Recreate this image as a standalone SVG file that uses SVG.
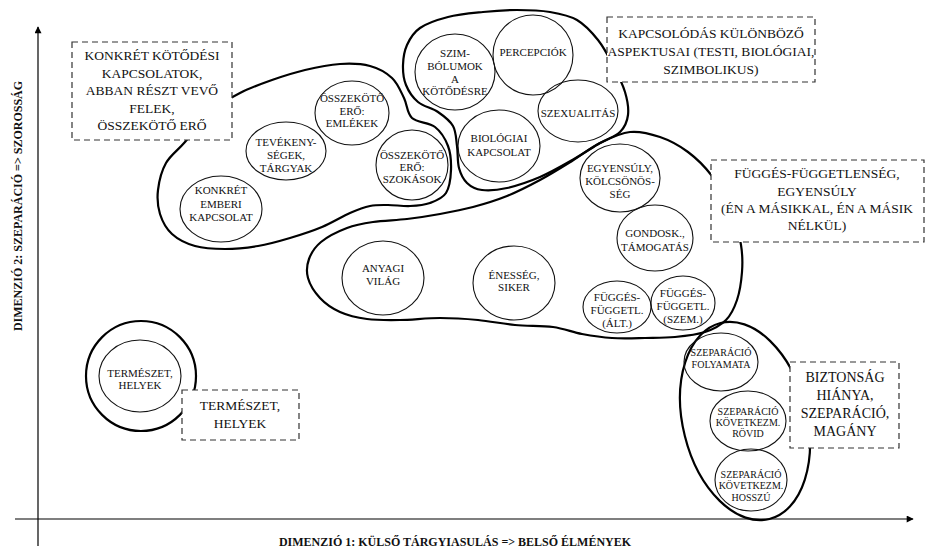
<svg xmlns="http://www.w3.org/2000/svg" width="928" height="551" viewBox="0 0 928 551">
<defs>
<marker id="arrow" viewBox="0 0 10 10" refX="9" refY="5" markerWidth="9" markerHeight="7" markerUnits="userSpaceOnUse" orient="auto"><path d="M0,0 L10,5 L0,10 z" fill="#000"/></marker>
</defs>
<style>
.t{font-family:"Liberation Serif","Times New Roman",serif;font-size:11px;fill:#111;text-anchor:middle}
.s{font-size:10px}
.b{font-family:"Liberation Serif","Times New Roman",serif;font-size:13.5px;fill:#111;text-anchor:middle}
.bb{font-size:14px}
.ax{font-family:"Liberation Serif","Times New Roman",serif;font-size:12px;font-weight:bold;fill:#111;text-anchor:middle}
.n{fill:none;stroke:#111;stroke-width:1.1}
.blob{fill:none;stroke:#000;stroke-width:2.2;stroke-linejoin:round}
.box{fill:#fff;stroke:#333;stroke-width:1.2;stroke-dasharray:6 4}
.axis{stroke:#000;stroke-width:1.2;fill:none}
</style>
<rect width="928" height="551" fill="#fff"/>

<g id="clusters">
<path id="blob-konkret" class="blob" d="M185,142 C192.3,133.5 200.8,120.2 210,112 C219.2,103.8 229.7,98.3 240,93 C250.3,87.7 261.2,83.8 272,80 C282.8,76.2 293.7,72.7 305,70 C316.3,67.3 329.2,64.7 340,64 C350.8,63.3 361.3,63.7 370,66 C378.7,68.3 386.3,72.7 392,78 C397.7,83.3 400.7,91.3 404,98 C407.3,104.7 406.8,113.2 412,118 C417.2,122.8 429,122.3 435,127 C441,131.7 445.3,138.8 448,146 C450.7,153.2 451.3,162.2 451,170 C450.7,177.8 449.5,187.5 446,193 C442.5,198.5 436,200.8 430,203 C424,205.2 417,205.7 410,206 C403,206.3 394.7,205 388,205 C381.3,205 376.3,204.7 370,206 C363.7,207.3 358,209.5 350,213 C342,216.5 332,222.8 322,227 C312,231.2 300.7,234.8 290,238 C279.3,241.2 268.8,244.2 258,246 C247.2,247.8 235.5,249 225,249 C214.5,249 203.8,248.5 195,246 C186.2,243.5 177.8,239.3 172,234 C166.2,228.7 162.3,221.3 160,214 C157.7,206.7 157,198.5 158,190 C159,181.5 161.5,171 166,163 C170.5,155 177.7,150.5 185,142 Z"/>
<path id="blob-kapcsolodas" class="blob" d="M407,45 C409.8,38.8 413.2,32.7 420,28 C426.8,23.3 437.5,19.7 448,17 C458.5,14.3 471.5,13.2 483,12 C494.5,10.8 505.8,10 517,10 C528.2,10 540,10.3 550,12 C560,13.7 569,15.3 577,20 C585,24.7 592,32.5 598,40 C604,47.5 608.5,56.3 613,65 C617.5,73.7 622.5,83.7 625,92 C627.5,100.3 628.8,108.3 628,115 C627.2,121.7 624.7,127.3 620,132 C615.3,136.7 607.7,138.5 600,143 C592.3,147.5 584,153.3 574,159 C564,164.7 551.2,172.2 540,177 C528.8,181.8 516.7,185.8 507,188 C497.3,190.2 488.7,190.8 482,190 C475.3,189.2 470.8,186.7 467,183 C463.2,179.3 460.7,174.2 459,168 C457.3,161.8 458,153 457,146 C456,139 456.2,131.7 453,126 C449.8,120.3 443.8,116 438,112 C432.2,108 423.3,106.5 418,102 C412.7,97.5 408.5,91.2 406,85 C403.5,78.8 402.8,71.7 403,65 C403.2,58.3 404.2,51.2 407,45 Z"/>
<path id="blob-fugges" class="blob" d="M347,228 C355.7,224.7 363,223.5 373,222 C383,220.5 395.8,220.3 407,219 C418.2,217.7 429,216 440,214 C451,212 461.8,210 473,207 C484.2,204 495.8,200.5 507,196 C518.2,191.5 529.2,185.8 540,180 C550.8,174.2 562,167.2 572,161 C582,154.8 590.3,147.8 600,143 C609.7,138.2 620,133 630,132 C640,131 650.3,133.7 660,137 C669.7,140.3 679.3,145.5 688,152 C696.7,158.5 704.7,166.3 712,176 C719.3,185.7 727.2,198.5 732,210 C736.8,221.5 739.3,234.7 741,245 C742.7,255.3 742.7,262.8 742,272 C741.3,281.2 739.7,292 737,300 C734.3,308 731.3,314.7 726,320 C720.7,325.3 713.5,329.2 705,332 C696.5,334.8 685,336 675,337 C665,338 655.5,337.8 645,338 C634.5,338.2 622.5,338.7 612,338 C601.5,337.3 591.8,335.8 582,334 C572.2,332.2 564.2,328.5 553,327 C541.8,325.5 527.5,326.2 515,325 C502.5,323.8 490.5,321.2 478,320 C465.5,318.8 453,318 440,318 C427,318 412.2,319.8 400,320 C387.8,320.2 377,320.3 367,319 C357,317.7 347.8,315.5 340,312 C332.2,308.5 325.3,303.7 320,298 C314.7,292.3 309.8,284.5 308,278 C306.2,271.5 306.8,265 309,259 C311.2,253 314.7,247.2 321,242 C327.3,236.8 338.3,231.3 347,228 Z"/>
<ellipse id="blob-szeparacio" class="blob" cx="745" cy="421" rx="62" ry="101" transform="rotate(-14 745 421)"/>
<circle id="blob-termeszet" class="blob" cx="141" cy="376" r="55"/>
</g>

<g id="node-konkret-emberi"><ellipse class="n" cx="221" cy="209" rx="41" ry="33"/><text class="t" x="221" y="194">KONKRÉT</text><text class="t" x="221" y="208">EMBERI</text><text class="t" x="221" y="221">KAPCSOLAT</text></g>
<g id="node-tevekenysegek"><ellipse class="n" cx="286" cy="151" rx="40" ry="29"/><text class="t" x="286" y="146">TEVÉKENY-</text><text class="t" x="286" y="159">SÉGEK,</text><text class="t" x="286" y="172">TÁRGYAK</text></g>
<g id="node-emlekek"><ellipse class="n" cx="352" cy="113" rx="37" ry="32"/><text class="t" x="352" y="102">ÖSSZEKÖTŐ</text><text class="t" x="352" y="115">ERŐ:</text><text class="t" x="352" y="127">EMLÉKEK</text></g>
<g id="node-szokasok"><ellipse class="n" cx="412" cy="165" rx="36" ry="35"/><text class="t" x="412" y="159">ÖSSZEKÖTŐ</text><text class="t" x="412" y="171">ERŐ:</text><text class="t" x="412" y="183">SZOKÁSOK</text></g>
<g id="node-szimbolumok"><ellipse class="n" cx="455" cy="72" rx="40" ry="38"/><text class="t" x="455" y="57">SZIM-</text><text class="t" x="455" y="70">BÓLUMOK</text><text class="t" x="455" y="83">A</text><text class="t" x="455" y="95">KÖTŐDÉSRE</text></g>
<g id="node-percepciok"><ellipse class="n" cx="533" cy="55" rx="40" ry="40"/><text class="t" x="533" y="56">PERCEPCIÓK</text></g>
<g id="node-szexualitas"><ellipse class="n" cx="578" cy="111" rx="40" ry="31"/><text class="t" x="578" y="117">SZEXUALITÁS</text></g>
<g id="node-biologiai"><ellipse class="n" cx="499" cy="146" rx="41" ry="36"/><text class="t" x="499" y="142">BIOLÓGIAI</text><text class="t" x="499" y="156">KAPCSOLAT</text></g>
<g id="node-egyensuly"><ellipse class="n" cx="620" cy="178" rx="40" ry="34"/><text class="t" x="620" y="172">EGYENSÚLY,</text><text class="t" x="620" y="185">KÖLCSÖNÖS-</text><text class="t" x="620" y="198">SÉG</text></g>
<g id="node-gondosk"><ellipse class="n" cx="655" cy="238" rx="38" ry="33"/><text class="t" x="655" y="237">GONDOSK.,</text><text class="t" x="655" y="251">TÁMOGATÁS</text></g>
<g id="node-fugges-alt"><ellipse class="n" cx="617" cy="307" rx="34" ry="26"/><text class="t" x="617" y="301">FÜGGÉS-</text><text class="t" x="617" y="314">FÜGGETL.</text><text class="t" x="617" y="327">(ÁLT.)</text></g>
<g id="node-fugges-szem"><ellipse class="n" cx="683" cy="303" rx="32" ry="27"/><text class="t" x="683" y="297">FÜGGÉS-</text><text class="t" x="683" y="310">FÜGGETL.</text><text class="t" x="683" y="323">(SZEM.)</text></g>
<g id="node-anyagi"><ellipse class="n" cx="383" cy="278" rx="41" ry="37"/><text class="t" x="383" y="272">ANYAGI</text><text class="t" x="383" y="285">VILÁG</text></g>
<g id="node-enesseg"><ellipse class="n" cx="514" cy="283" rx="41" ry="37"/><text class="t" x="514" y="279">ÉNESSÉG,</text><text class="t" x="514" y="291">SIKER</text></g>
<g id="node-szep-folyamata"><ellipse class="n" cx="721" cy="362" rx="37" ry="29"/><text class="t s" x="721" y="356">SZEPARÁCIÓ</text><text class="t s" x="721" y="368">FOLYAMATA</text></g>
<g id="node-szep-rovid"><ellipse class="n" cx="748" cy="421" rx="38" ry="30"/><text class="t s" x="748" y="415">SZEPARÁCIÓ</text><text class="t s" x="748" y="426">KÖVETKEZM.</text><text class="t s" x="748" y="437">RÖVID</text></g>
<g id="node-szep-hosszu"><ellipse class="n" cx="751" cy="480" rx="36" ry="31"/><text class="t s" x="751" y="478">SZEPARÁCIÓ</text><text class="t s" x="751" y="489">KÖVETKEZM.</text><text class="t s" x="751" y="501">HOSSZÚ</text></g>
<g id="node-termeszet"><ellipse class="n" cx="140" cy="376" rx="41" ry="36"/><text class="t" x="140" y="377">TERMÉSZET,</text><text class="t" x="140" y="389">HELYEK</text></g>

<g id="label-konkret"><rect class="box" x="72" y="42" width="160" height="98"/><text class="b" x="152" y="60">KONKRÉT KÖTŐDÉSI</text><text class="b" x="152" y="77.5">KAPCSOLATOK,</text><text class="b" x="152" y="95">ABBAN RÉSZT VEVŐ</text><text class="b" x="152" y="112.5">FELEK,</text><text class="b" x="152" y="130">ÖSSZEKÖTŐ ERŐ</text></g>
<g id="label-kapcsolodas"><rect class="box" x="607" y="17" width="208" height="65"/><text class="b" x="711" y="38">KAPCSOLÓDÁS KÜLÖNBÖZŐ</text><text class="b" x="711" y="56">ASPEKTUSAI (TESTI, BIOLÓGIAI,</text><text class="b" x="711" y="74">SZIMBOLIKUS)</text></g>
<g id="label-fugges"><rect class="box" x="711" y="160" width="213" height="82"/><text class="b" x="817" y="178">FÜGGÉS-FÜGGETLENSÉG,</text><text class="b" x="817" y="196">EGYENSÚLY</text><text class="b" x="817" y="213">(ÉN A MÁSIKKAL, ÉN A MÁSIK</text><text class="b" x="817" y="230">NÉLKÜL)</text></g>
<g id="label-biztonsag"><rect class="box" x="790" y="362" width="109" height="86"/><text class="b bb" x="845" y="382">BIZTONSÁG</text><text class="b bb" x="845" y="400">HIÁNYA,</text><text class="b bb" x="845" y="418">SZEPARÁCIÓ,</text><text class="b bb" x="845" y="436">MAGÁNY</text></g>
<g id="label-termeszet"><rect class="box" x="182" y="390" width="117" height="50"/><text class="b" x="240" y="410">TERMÉSZET,</text><text class="b" x="240" y="428">HELYEK</text></g>

<g id="connectors">
<line class="axis" x1="38" y1="546" x2="38" y2="27" marker-end="url(#arrow)"/>
<line class="axis" x1="15" y1="519" x2="913" y2="519" marker-end="url(#arrow)"/>
</g>
<g id="axis-labels">
<text class="ax" x="455" y="546">DIMENZIÓ 1: KÜLSŐ TÁRGYIASULÁS =&gt; BELSŐ ÉLMÉNYEK</text>
<text class="ax" transform="translate(22,206) rotate(-90)">DIMENZIÓ 2: SZEPARÁCIÓ =&gt; SZOROSSÁG</text>
</g>
</svg>
